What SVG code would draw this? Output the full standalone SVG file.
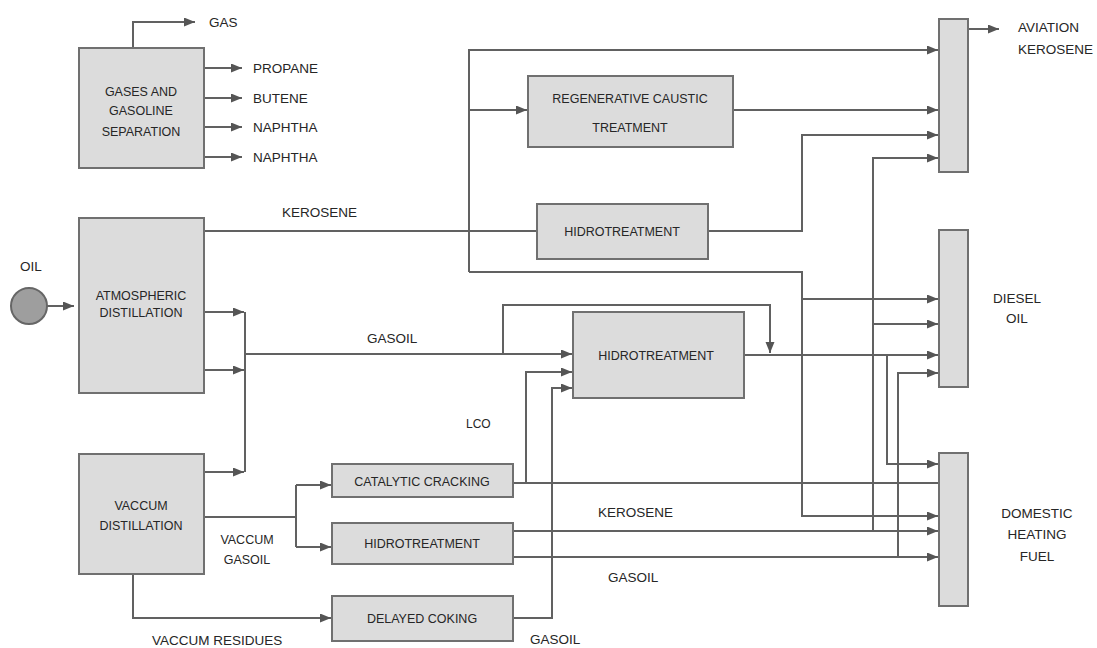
<svg xmlns="http://www.w3.org/2000/svg" width="1097" height="648" viewBox="0 0 1097 648">
  <style>
    .box { fill: #dcdcdc; stroke: #707070; stroke-width: 2; }
    .line { fill: none; stroke: #616161; stroke-width: 2; }
    .arrow { marker-end: url(#head); }
    .t { font-family: "Liberation Sans", Arial, sans-serif; fill: #262626; }
    .lbl { font-size: 13.5px; }
    .in { font-size: 12.5px; text-anchor: middle; }
    .mid { text-anchor: middle; }
  </style>
  <defs>
    <marker id="head" markerUnits="userSpaceOnUse" markerWidth="12" markerHeight="10" refX="11" refY="4.5" orient="auto">
      <path d="M0,0 L11,4.5 L0,9 z" fill="#555"/>
    </marker>
  </defs>

  <rect width="1097" height="648" fill="#ffffff"/>

  <!-- connectors -->
  <g id="connectors">
    <!-- gas separation products -->
    <path class="line arrow" d="M133,48 V22 H195"/>
    <path class="line arrow" d="M204,68 H242"/>
    <path class="line arrow" d="M204,98 H242"/>
    <path class="line arrow" d="M204,127 H242"/>
    <path class="line arrow" d="M204,157 H242"/>

    <!-- crude feed -->
    <path class="line arrow" d="M47,306 H74"/>

    <!-- distillation gasoil collector -->
    <path class="line arrow" d="M204,312 H244"/>
    <path class="line arrow" d="M204,370 H244"/>
    <path class="line arrow" d="M204,472 H244"/>
    <path class="line" d="M245,312 V472"/>
    <path class="line arrow" d="M245,354 H572"/>
    <path class="line arrow" d="M503,354 V305 H770 V353"/>

    <!-- kerosene routes -->
    <path class="line" d="M204,231 H537"/>
    <path class="line arrow" d="M469,272 V50 H938"/>
    <path class="line arrow" d="M469,110 H527"/>
    <path class="line arrow" d="M469,272 H802 V516 H938"/>
    <path class="line arrow" d="M802,299 H938"/>
    <path class="line arrow" d="M733,110 H938"/>
    <path class="line arrow" d="M708,231 H802 V135 H938"/>

    <!-- gasoil hydrotreatment output -->
    <path class="line arrow" d="M744,355 H938"/>
    <path class="line arrow" d="M887,355 V464 H938"/>

    <!-- catalytic cracking and LCO -->
    <path class="line" d="M513,483 H939"/>
    <path class="line arrow" d="M526,483 V372 H572"/>

    <!-- delayed coking gasoil -->
    <path class="line arrow" d="M513,618 H552 V388 H572"/>

    <!-- lower hydrotreatment products -->
    <path class="line arrow" d="M513,531 H938"/>
    <path class="line arrow" d="M873,531 V158 H938"/>
    <path class="line arrow" d="M873,324 H938"/>
    <path class="line arrow" d="M513,557 H938"/>
    <path class="line arrow" d="M898,557 V373 H938"/>

    <!-- vacuum gasoil and residues -->
    <path class="line" d="M204,517 H296"/>
    <path class="line" d="M296,485 V547"/>
    <path class="line arrow" d="M296,485 H331"/>
    <path class="line arrow" d="M296,547 H331"/>
    <path class="line arrow" d="M133,574 V618 H331"/>

    <!-- aviation kerosene product -->
    <path class="line arrow" d="M968,29 H999"/>
  </g>

  <!-- stream labels -->
  <g id="labels" class="t lbl">
    <text x="209" y="27">GAS</text>
    <text x="253" y="73">PROPANE</text>
    <text x="253" y="103">BUTENE</text>
    <text x="253" y="132">NAPHTHA</text>
    <text x="253" y="162">NAPHTHA</text>
    <text x="20" y="271">OIL</text>
    <text x="282" y="217">KEROSENE</text>
    <text x="367" y="343">GASOIL</text>
    <text x="466" y="428" font-size="12px">LCO</text>
    <text x="598" y="517">KEROSENE</text>
    <text x="608" y="582">GASOIL</text>
    <text x="530" y="644">GASOIL</text>
    <text x="152" y="645">VACCUM RESIDUES</text>
    <text x="247" y="544" class="mid" font-size="12.5px">VACCUM</text>
    <text x="247" y="564" class="mid" font-size="12.5px">GASOIL</text>
  </g>

  <g id="oil">
    <circle cx="29" cy="306" r="18" fill="#9e9e9e" stroke="#666" stroke-width="2"/>
  </g>

  <g id="gas-separation">
    <rect class="box" x="79" y="48" width="125" height="120"/>
    <text class="t in" x="141" y="96">GASES AND</text>
    <text class="t in" x="141" y="115">GASOLINE</text>
    <text class="t in" x="141" y="136">SEPARATION</text>
  </g>

  <g id="atmospheric-distillation">
    <rect class="box" x="79" y="218" width="125" height="175"/>
    <text class="t in" x="141" y="300" font-size="11px">ATMOSPHERIC</text>
    <text class="t in" x="141" y="317" font-size="11px">DISTILLATION</text>
  </g>

  <g id="vacuum-distillation">
    <rect class="box" x="79" y="454" width="125" height="120"/>
    <text class="t in" x="141" y="510">VACCUM</text>
    <text class="t in" x="141" y="530">DISTILLATION</text>
  </g>

  <g id="regenerative-caustic">
    <rect class="box" x="528" y="76" width="205" height="71"/>
    <text class="t in" x="630" y="103">REGENERATIVE CAUSTIC</text>
    <text class="t in" x="630" y="132">TREATMENT</text>
  </g>

  <g id="kerosene-hydrotreatment">
    <rect class="box" x="537" y="204" width="171" height="55"/>
    <text class="t in" x="622" y="236" font-size="13px">HIDROTREATMENT</text>
  </g>

  <g id="gasoil-hydrotreatment">
    <rect class="box" x="573" y="312" width="171" height="86"/>
    <text class="t in" x="656" y="360" font-size="13px">HIDROTREATMENT</text>
  </g>

  <g id="catalytic-cracking">
    <rect class="box" x="332" y="464" width="181" height="33"/>
    <text class="t in" x="422" y="486" font-size="13px">CATALYTIC CRACKING</text>
  </g>

  <g id="vacuum-hydrotreatment">
    <rect class="box" x="332" y="523" width="181" height="41"/>
    <text class="t in" x="422" y="548" font-size="13px">HIDROTREATMENT</text>
  </g>

  <g id="delayed-coking">
    <rect class="box" x="332" y="596" width="181" height="45"/>
    <text class="t in" x="422" y="623" font-size="13px">DELAYED COKING</text>
  </g>

  <g id="aviation-kerosene">
    <rect class="box" x="939" y="19" width="29" height="153"/>
    <text class="t lbl" x="1018" y="32">AVIATION</text>
    <text class="t lbl" x="1018" y="54">KEROSENE</text>
  </g>

  <g id="diesel-oil">
    <rect class="box" x="939" y="230" width="29" height="157"/>
    <text class="t lbl mid" x="1017" y="303">DIESEL</text>
    <text class="t lbl mid" x="1017" y="323">OIL</text>
  </g>

  <g id="domestic-heating-fuel">
    <rect class="box" x="939" y="453" width="29" height="153"/>
    <text class="t lbl mid" x="1037" y="518">DOMESTIC</text>
    <text class="t lbl mid" x="1037" y="539">HEATING</text>
    <text class="t lbl mid" x="1037" y="561">FUEL</text>
  </g>
</svg>
